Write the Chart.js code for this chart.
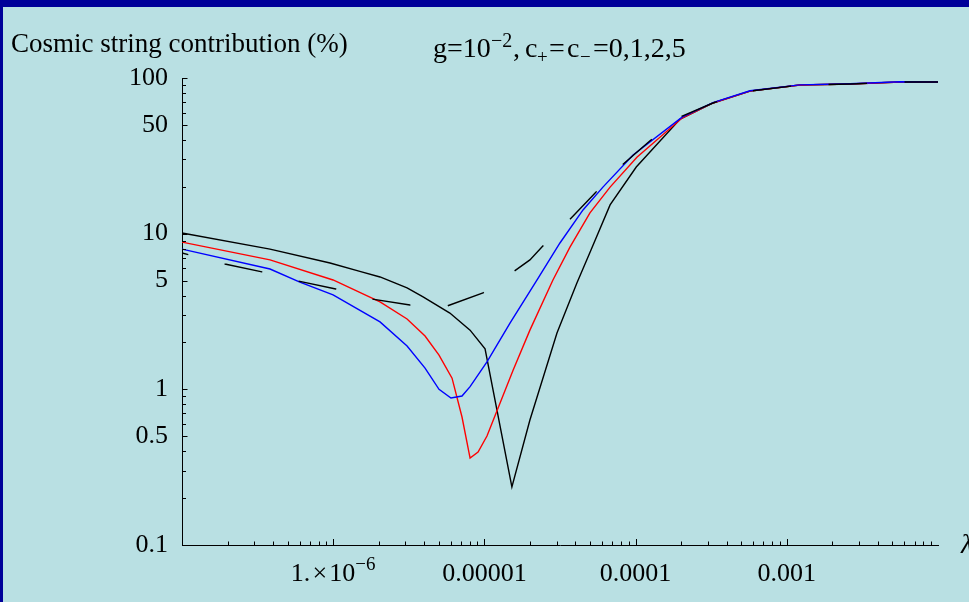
<!DOCTYPE html>
<html>
<head>
<meta charset="utf-8">
<title>Cosmic string contribution</title>
<script src="https://cdn.jsdelivr.net/npm/chart.js@4.4.0/dist/chart.umd.min.js"></script>
<style>
  html, body { margin: 0; padding: 0; background: #b9e0e3; }
  canvas { display: block; }
</style>
</head>
<body>
<canvas id="chart" width="969" height="602"></canvas>
<script>
// values: lambda and contribution in %
const lamC0 = [1.0e-7, 3.82e-7, 9.53e-7, 1.50e-6, 2.04e-6, 3.08e-6, 3.93e-6, 5.91e-6, 8.04e-6, 1.01e-5, 1.52e-5, 2.00e-5, 3.02e-5, 4.09e-5, 5.07e-5, 6.78e-5, 1.01e-4, 1.97e-4, 3.25e-4, 5.71e-4, 1.22e-3, 2.62e-3, 5.61e-3, 1.0e-2];
const pctC0 = [10.1, 7.96, 6.48, 5.72, 5.27, 4.48, 3.92, 3.09, 2.40, 1.82, 0.236, 0.635, 2.30, 4.82, 7.85, 15.3, 26.8, 54.5, 69.1, 82.4, 90.1, 91.5, 94.2, 94.2];

const lamC1 = [1.0e-7, 3.82e-7, 9.98e-7, 2.04e-6, 3.08e-6, 4.05e-6, 5.01e-6, 6.11e-6, 7.11e-6, 8.04e-6, 9.08e-6, 1.04e-5, 1.55e-5, 2.00e-5, 2.84e-5, 3.68e-5, 4.99e-5, 6.78e-5, 1.02e-4, 2.03e-4, 3.25e-4, 5.71e-4, 1.22e-3, 2.62e-3, 5.61e-3, 1.0e-2];
const pctC1 = [8.83, 6.78, 5.04, 3.64, 2.83, 2.20, 1.66, 1.18, 0.664, 0.362, 0.395, 0.501, 1.33, 2.40, 5.04, 8.20, 13.6, 19.9, 31.0, 55.3, 69.1, 82.4, 90.1, 91.5, 94.2, 94.2];

const lamC2 = [1.0e-7, 3.82e-7, 6.02e-7, 9.98e-7, 2.04e-6, 3.08e-6, 4.05e-6, 5.01e-6, 6.01e-6, 7.11e-6, 8.04e-6, 1.04e-5, 1.48e-5, 2.23e-5, 3.16e-5, 4.49e-5, 6.08e-5, 9.62e-5, 2.03e-4, 3.25e-4, 5.71e-4, 1.22e-3, 2.62e-3, 5.61e-3, 1.0e-2];
const pctC2 = [7.96, 5.93, 4.89, 4.04, 2.71, 1.90, 1.37, 1.00, 0.880, 0.906, 1.04, 1.50, 2.67, 5.04, 8.71, 14.2, 19.9, 32.0, 56.1, 69.5, 82.8, 90.3, 91.8, 94.5, 94.2];

const lamC5 = [1.0e-7, 1.92e-7, 3.38e-7, 5.85e-7, 1.04e-6, 1.81e-6, 3.22e-6, 4.37e-6, 5.66e-6, 9.79e-6, 1.55e-5, 2.00e-5, 2.40e-5, 3.57e-5, 5.38e-5, 8.00e-5, 1.24e-4, 1.97e-4, 3.25e-4, 5.71e-4, 1.22e-3, 2.62e-3, 5.61e-3, 1.0e-2];
const pctC5 = [7.52, 6.38, 5.68, 4.97, 4.41, 3.80, 3.48, 3.38, 3.43, 4.16, 5.68, 6.78, 8.20, 12.0, 18.2, 27.2, 39.4, 56.1, 69.1, 82.4, 90.1, 91.5, 94.2, 94.2];

// labelled ticks
const xTickLabels = [1e-6, 1e-5, 1e-4, 1e-3];
const xTickTexts = [['1.\u200a\u00d7\u200a10', '\u22126'], ['0.00001'], ['0.0001'], ['0.001']];
const yTickLabels = [0.1, 0.5, 1, 5, 10, 50, 100];

const FONT = 'Liberation Serif';

// every 1..9 x 10^n inside the range (minor + major tick marks)
function logTicks(minExp, maxExp) {
    const out = [];
    for (let e = minExp; e < maxExp; e++) {
        for (let s = 1; s <= 9; s++) out.push(Number((s * Math.pow(10, e)).toPrecision(3)));
    }
    out.push(Number(Math.pow(10, maxExp).toPrecision(3)));
    return out;
}
const xTickValues = logTicks(-7, -2);
const yTickValues = logTicks(-1, 2);

function isDecade(v) {
    const l = Math.log10(v);
    return Math.abs(l - Math.round(l)) < 1e-6;
}

function pts(xs, ys) {
    return xs.map((x, i) => ({ x: x, y: ys[i] }));
}

// draw text made of runs (normal / superscript / subscript)
function drawRuns(c, x, y, runs, align) {
    let total = 0;
    runs.forEach(r => { c.font = r.size + 'px "' + FONT + '"'; r.w = c.measureText(r.t).width; total += r.w; });
    let cx = align === 'center' ? x - total / 2 : x;
    c.textAlign = 'left';
    c.textBaseline = 'alphabetic';
    runs.forEach(r => {
        c.font = r.size + 'px "' + FONT + '"';
        if (r.x !== undefined) cx = r.x;
        c.fillText(r.t, cx, y + (r.dy || 0));
        cx += r.w;
    });
}

const decor = {
    id: 'decor',
    beforeDraw(chart) {
        const c = chart.ctx;
        c.save();
        c.fillStyle = '#b9e0e3';
        c.fillRect(0, 0, chart.width, chart.height);
        c.fillStyle = '#000099';
        c.fillRect(0, 0, chart.width, 7);
        c.fillRect(0, 0, 3, chart.height);
        c.restore();
    },
    afterDraw(chart) {
        const c = chart.ctx;
        const a = chart.chartArea;
        const xs = chart.scales.x, ys = chart.scales.y;
        c.save();
        // inward tick marks
        c.strokeStyle = '#000';
        c.lineWidth = 1;
        c.beginPath();
        xs.ticks.forEach(t => {
            if (t.value <= 1e-7 || t.value >= 1e-2) return;
            const px = Math.round(xs.getPixelForValue(t.value)) + 0.5;
            const len = isDecade(t.value) ? 6 : 3.5;
            c.moveTo(px, a.bottom);
            c.lineTo(px, a.bottom - len);
        });
        ys.ticks.forEach(t => {
            if (t.value <= 0.1) return;
            const py = Math.round(ys.getPixelForValue(t.value)) + 0.5;
            const len = (isDecade(t.value) || yTickLabels.includes(t.value)) ? 5.5 : 4;
            c.moveTo(a.left, py);
            c.lineTo(a.left + len, py);
        });
        c.stroke();

        // x tick labels
        c.fillStyle = '#000';
        xTickLabels.forEach((v, i) => {
            const px = xs.getPixelForValue(v);
            const parts = xTickTexts[i];
            const runs = [{ t: parts[0], size: 26 }];
            if (parts[1]) runs.push({ t: parts[1], size: 19, dy: -11 });
            drawRuns(c, px, 581, runs, 'center');
        });

        // titles
        drawRuns(c, 11, 52, [{ t: 'Cosmic string contribution (%)', size: 27 }], 'left');
        drawRuns(c, 433, 57, [
            { t: 'g=10', size: 28, x: 433 },
            { t: '\u22122', size: 20, dy: -10, x: 491 },
            { t: ',', size: 28, x: 513 },
            { t: 'c', size: 28, x: 525 },
            { t: '+', size: 19, dy: 6, x: 537 },
            { t: '=', size: 28, x: 549 },
            { t: 'c', size: 28, x: 567 },
            { t: '\u2212', size: 19, dy: 6, x: 580 },
            { t: '=0,1,2,5', size: 28, x: 593 }
        ], 'left');

        // axis name, cut by the right edge as in the original
        c.font = 'italic 27px "' + FONT + '"';
        c.textAlign = 'left';
        c.fillText('\u03bb', 961, 553);
        c.restore();
    }
};

const ctx = document.getElementById('chart').getContext('2d');
const chart = new Chart(ctx, {
    type: 'line',
    data: {
        // first dataset is painted last (on top)
        datasets: [
            { label: 'c=5', data: pts(lamC5, pctC5), borderColor: '#000000', borderDash: [38.5, 37.5], borderDashOffset: 32 },
            { label: 'c=2', data: pts(lamC2, pctC2), borderColor: '#0000ff' },
            { label: 'c=1', data: pts(lamC1, pctC1), borderColor: '#ff0000' },
            { label: 'c=0', data: pts(lamC0, pctC0), borderColor: '#000000' }
        ]
    },
    options: {
        responsive: false,
        animation: false,
        devicePixelRatio: 1,
        datasets: {
            line: { borderWidth: 1.4, pointRadius: 0, tension: 0, fill: false }
        },
        layout: { padding: { left: 0, top: 78, right: 31, bottom: 0 } },
        plugins: {
            legend: { display: false },
            tooltip: { enabled: false }
        },
        scales: {
            x: {
                type: 'logarithmic',
                position: 'bottom',
                min: 1e-7,
                max: 1e-2,
                grid: { display: false },
                border: { display: true, color: '#000', width: 1 },
                ticks: { display: false },
                afterBuildTicks: s => { s.ticks = xTickValues.map(v => ({ value: v })); },
                afterFit: s => { s.height = 57; }
            },
            y: {
                type: 'logarithmic',
                position: 'left',
                min: 0.1,
                max: 100,
                grid: { display: false, drawTicks: false },
                border: { display: true, color: '#000', width: 1 },
                ticks: {
                    autoSkip: false,
                    padding: 14,
                    color: '#000',
                    font: { family: FONT, size: 26 },
                    callback: v => yTickLabels.includes(v) ? String(v) : ''
                },
                afterBuildTicks: s => { s.ticks = yTickValues.map(v => ({ value: v })); },
                afterFit: s => { s.width = 182; }
            }
        }
    },
    plugins: [decor]
});
</script>
</body>
</html>
